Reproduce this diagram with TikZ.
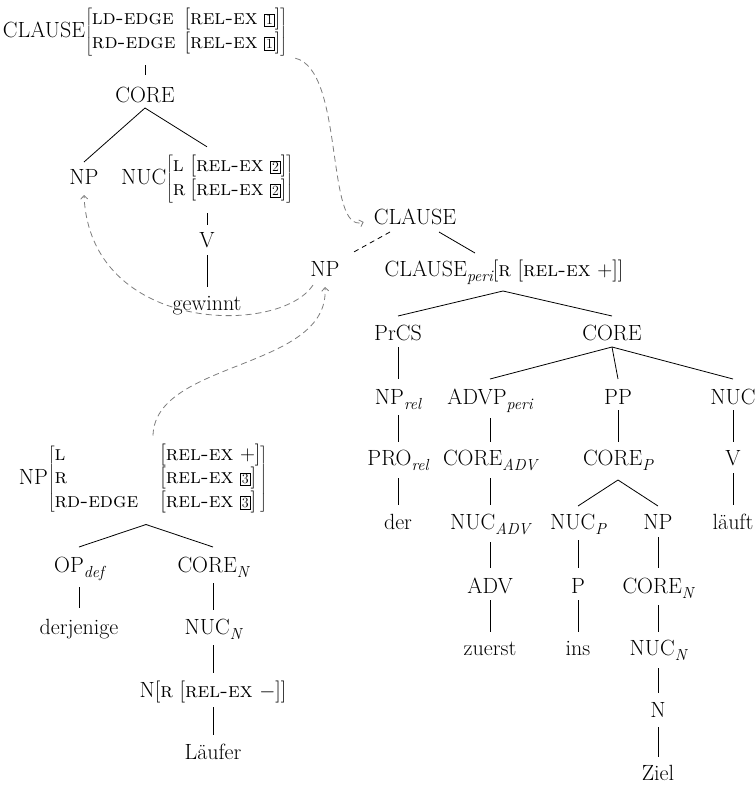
\documentclass[tikz,border=0pt]{standalone}
\usetikzlibrary{arrows.meta}
\definecolor{lk}{RGB}{125,125,125}
\newcommand\tagnum[1]{{\setlength\fboxsep{1.2pt}\setlength\fboxrule{0.6pt}\fbox{\fontsize{14}{14}\selectfont #1}}}
\newcommand\smc[1]{{\fontsize{21}{25}\selectfont\textsc{#1}}}
\newcommand\sub[1]{\raisebox{-5pt}{\fontsize{16}{16}\selectfont\itshape #1}}
\renewcommand\arraystretch{0.94}
\begin{document}
\begin{tikzpicture}[x=1pt,y=-1pt,
  font=\fontsize{22}{25}\selectfont,
  lbl/.style={anchor=base, inner sep=0pt},
  avm/.style={anchor=center, inner sep=0pt},
  edge/.style={line width=0.8pt},
  link/.style={lk, line width=0.8pt, dash pattern=on 6pt off 4pt, -{Straight Barb[length=3.5pt,width=7pt]}}]
\useasboundingbox (0,0) rectangle (755,787);

% ---- top-left tree
\node[avm] (c1) at (145,32) {CLAUSE$\left[\begin{tabular}{@{}l@{\hspace{9pt}}l@{}}\smc{ld-edge} & [\smc{rel-ex} \tagnum{1}]\\ \smc{rd-edge} & [\smc{rel-ex} \tagnum{1}]\end{tabular}\right]$};
\node[lbl] (core1) at (145,102) {CORE};
\node[lbl] (np1) at (84,184) {NP};
\node[avm] (nuc1) at (207,179) {NUC$\left[\begin{tabular}{@{}l@{\hspace{5pt}}l@{}}\smc{l} & [\smc{rel-ex} \tagnum{2}]\\ \smc{r} & [\smc{rel-ex} \tagnum{2}]\end{tabular}\right]$};
\node[lbl] (v1) at (207,247) {V};
\node[lbl] (gew) at (207,310) {gewinnt};

\draw[edge] ([yshift=-9pt]c1.south) -- ([yshift=27pt]core1.base);
\draw[edge] ([yshift=-6pt]core1.base) -- ([yshift=22pt]np1.base);
\draw[edge] ([yshift=-6pt]core1.base) -- ([yshift=8pt]nuc1.north);
\draw[edge] ([yshift=-10pt]nuc1.south) -- ([yshift=22pt]v1.base);
\draw[edge] ([yshift=-8pt]v1.base) -- ([yshift=23pt]gew.base);

% ---- middle
\node[lbl] (c2) at (415,224) {CLAUSE};
\node[lbl] (np2) at (325,276) {NP};
\node[lbl] (peri) at (504,276) {CLAUSE\sub{peri}[\smc{r} [\smc{rel-ex} $+$]]};
\draw[edge, dash pattern=on 5pt off 4pt] ([xshift=-25pt,yshift=-8pt]c2.base) -- ([xshift=27pt,yshift=23pt]np2.base);
\draw[edge] ([xshift=24pt,yshift=-8pt]c2.base) -- ([xshift=-29pt,yshift=23pt]peri.base);

% ---- right tree
\node[lbl] (prcs) at (398,340) {PrCS};
\node[lbl] (core2) at (612,340) {CORE};
\node[lbl] (nprel) at (398,404) {NP\sub{rel}};
\node[lbl] (advp) at (490,404) {ADVP\sub{peri}};
\node[lbl] (pp) at (618,404) {PP};
\node[lbl] (nuc2) at (733,404) {NUC};
\node[lbl] (prorel) at (398,465) {PRO\sub{rel}};
\node[lbl] (coreadv) at (490,465) {CORE\sub{ADV}};
\node[lbl] (corep) at (618,465) {CORE\sub{P}};
\node[lbl] (v2) at (733,465) {V};
\node[lbl] (der) at (398,529) {der};
\node[lbl] (nucadv) at (490,529) {NUC\sub{ADV}};
\node[lbl] (nucp) at (578,529) {NUC\sub{P}};
\node[lbl] (np3) at (658,529) {NP};
\node[lbl] (lauft) at (733,529) {läuft};
\node[lbl] (adv) at (490,593) {ADV};
\node[lbl] (p) at (578,593) {P};
\node[lbl] (coren) at (658,593) {CORE\sub{N}};
\node[lbl] (zuerst) at (490,655) {zuerst};
\node[lbl] (ins) at (578,655) {ins};
\node[lbl] (nucn) at (658,655) {NUC\sub{N}};
\node[lbl] (n) at (658,717) {N};
\node[lbl] (ziel) at (658,780) {Ziel};

\draw[edge] ([xshift=-1pt,yshift=-15pt]peri.base) -- ([yshift=24pt]prcs.base);
\draw[edge] ([xshift=-1pt,yshift=-15pt]peri.base) -- ([yshift=24pt]core2.base);
\draw[edge] ([yshift=-7pt]core2.base) -- ([yshift=25pt]advp.base);
\draw[edge] ([yshift=-7pt]core2.base) -- ([yshift=25pt]pp.base);
\draw[edge] ([yshift=-7pt]core2.base) -- ([yshift=25pt]nuc2.base);
\draw[edge] ([yshift=-7pt]prcs.base) -- ([yshift=25pt]nprel.base);
\draw[edge] ([yshift=-11pt]nprel.base) -- ([yshift=23pt]prorel.base);
\draw[edge] ([yshift=-14pt]advp.base) -- ([yshift=23pt]coreadv.base);
\draw[edge] ([yshift=-6pt]pp.base) -- ([yshift=23pt]corep.base);
\draw[edge] ([yshift=-6pt]nuc2.base) -- ([yshift=23pt]v2.base);
\draw[edge] ([yshift=-13pt]prorel.base) -- ([yshift=24pt]der.base);
\draw[edge] ([yshift=-13pt]coreadv.base) -- ([yshift=24pt]nucadv.base);
\draw[edge] ([yshift=-15pt]corep.base) -- ([yshift=23pt]nucp.base);
\draw[edge] ([yshift=-15pt]corep.base) -- ([yshift=23pt]np3.base);
\draw[edge] ([yshift=-8pt]v2.base) -- ([yshift=24pt]lauft.base);
\draw[edge] ([yshift=-13pt]nucadv.base) -- ([yshift=25pt]adv.base);
\draw[edge] ([yshift=-11pt]nucp.base) -- ([yshift=25pt]p.base);
\draw[edge] ([yshift=-8pt]np3.base) -- ([yshift=25pt]coren.base);
\draw[edge] ([yshift=-7pt]adv.base) -- ([yshift=23pt]zuerst.base);
\draw[edge] ([yshift=-7pt]p.base) -- ([yshift=23pt]ins.base);
\draw[edge] ([yshift=-12pt]coren.base) -- ([yshift=23pt]nucn.base);
\draw[edge] ([yshift=-13pt]nucn.base) -- ([yshift=24pt]n.base);
\draw[edge] ([yshift=-10pt]n.base) -- ([yshift=23pt]ziel.base);

% ---- bottom-left tree
\node[avm] (np4) at (143,479) {NP$\left[\begin{tabular}{@{}l@{\hspace{22pt}}l@{}}\smc{l} & [\smc{rel-ex} $+$]\\ \smc{r} & [\smc{rel-ex} \tagnum{3}]\\ \smc{rd-edge} & [\smc{rel-ex} \tagnum{3}]\end{tabular}\right]$};
\node[lbl] (op) at (79,572) {OP\sub{def}};
\node[lbl] (coren2) at (213,572) {CORE\sub{N}};
\node[lbl] (derj) at (79,634) {derjenige};
\node[lbl] (nucn2) at (213,634) {NUC\sub{N}};
\node[lbl] (nl) at (213,697) {N[\smc{r} [\smc{rel-ex} $-$]]};
\node[lbl] (laeufer) at (213,759) {Läufer};

\draw[edge] ([xshift=3pt,yshift=-10pt]np4.south) -- ([yshift=25pt]op.base);
\draw[edge] ([xshift=3pt,yshift=-10pt]np4.south) -- ([yshift=25pt]coren2.base);
\draw[edge] ([yshift=-15pt]op.base) -- ([yshift=26pt]derj.base);
\draw[edge] ([yshift=-11pt]coren2.base) -- ([yshift=24pt]nucn2.base);
\draw[edge] ([yshift=-11pt]nucn2.base) -- ([yshift=24pt]nl.base);
\draw[edge] ([yshift=-10pt]nl.base) -- ([yshift=24pt]laeufer.base);

% ---- dashed links
\draw[link] ([xshift=8pt,yshift=-2pt]c1.south east) .. controls (345,70) and (325,235) .. ([xshift=-10pt,yshift=2pt]c2.base west);
\draw[link] ([xshift=-12pt,yshift=-9pt]np2.base) .. controls (280,336) and (90,334) .. ([yshift=-11pt]np1.base);
\draw[link] ([xshift=10pt,yshift=8pt]np4.north) .. controls (155,360) and (330,370) .. ([yshift=-11pt]np2.base);
\end{tikzpicture}
\end{document}
